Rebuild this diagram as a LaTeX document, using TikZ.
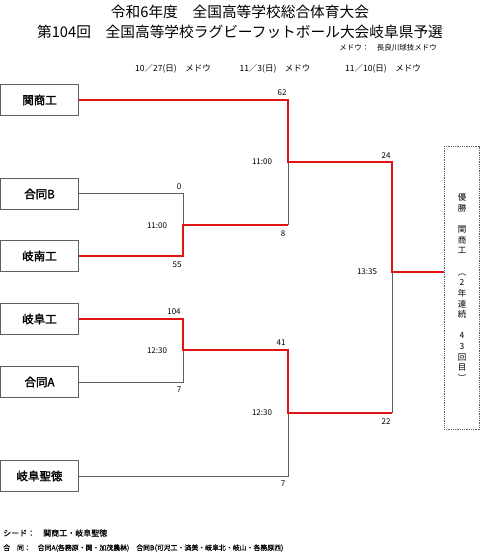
\documentclass[tikz,border=0pt]{standalone}
\usepackage{fontspec}
\setmainfont{Noto Sans CJK JP}
\newfontfamily\jpb{Noto Sans CJK JP}[FakeBold=2]
\newfontfamily\jpm{Noto Sans CJK JP}[FakeBold=0.6]
\definecolor{wred}{RGB}{225,20,20}
\definecolor{lgray}{RGB}{95,95,95}
\newcommand{\fs}[1]{\fontsize{#1}{#1}\selectfont}
\begin{document}
\begin{tikzpicture}[x=1pt,y=-1pt,
  team/.style={draw=lgray,line width=1pt,minimum width=77.5pt,minimum height=31pt,inner sep=0pt,font=\jpb\fs{11.5}},
  win/.style={line width=1.3pt,draw=wred},
  lose/.style={line width=1pt,draw=lgray},
  score/.style={inner sep=0pt,font=\fs{8}},
  hdr/.style={inner sep=0pt}]
\useasboundingbox (0,0) rectangle (480,553);
\fill[white] (0,0) rectangle (480,553);
% titles
\node[hdr,font=\fs{14.7}] (t1) at (240,12) {令和6年度　全国高等学校総合体育大会};
\node[hdr,font=\fs{14.7}] (t2) at (240,32) {第104回　全国高等学校ラグビーフットボール大会岐阜県予選};
\node[hdr,font=\fs{7.5}] (venue) at (388,48) {メドウ：　長良川球技メドウ};
\node[hdr,font=\fs{8.5}] (d1) at (173,69) {10／27(日)　メドウ};
\node[hdr,font=\fs{8.5}] (d2) at (275,69) {11／3(日)　メドウ};
\node[hdr,font=\fs{8.5}] (d3) at (383,69) {11／10(日)　メドウ};
% teams
\node[team] (kansho) at (39.5,100) {関商工};
\node[team] (godoB) at (39.5,194) {合同B};
\node[team] (ginan) at (39.5,256) {岐南工};
\node[team] (gifuko) at (39.5,319) {岐阜工};
\node[team] (godoA) at (39.5,382) {合同A};
\node[team] (seitoku) at (39.5,476) {岐阜聖徳};
% winner box
\node[draw=lgray,line width=1pt,dash pattern=on 1pt off 0.8pt,minimum width=35pt,minimum height=282pt,inner sep=0pt] (champ) at (461.5,288) {};
\node[inner sep=0pt,align=center,font=\fs{8.5},execute at begin node={\baselineskip=10.65pt}] (champtxt) at (462,287.5)
 {優\\勝\\\mbox{}\\関\\商\\工\\\mbox{}\\︵\\2\\年\\連\\続\\\mbox{}\\4\\3\\回\\目\\︶};
% junction coordinates
\coordinate (a1) at (288,100);
\coordinate (q1) at (288,162);
\coordinate (e1) at (288,225);
\coordinate (b1) at (183,194);
\coordinate (b2) at (183,256);
\coordinate (m1) at (183,225);
\coordinate (c1) at (183,319);
\coordinate (c2) at (183,382);
\coordinate (m2) at (183,350);
\coordinate (s1) at (288,350);
\coordinate (q2) at (288,413);
\coordinate (e2) at (288,476);
\coordinate (f1) at (392,162);
\coordinate (f2) at (392,413);
\coordinate (fm) at (392,272);
% losers
\draw[lose] (godoB.east) -- (b1) -- (m1);
\draw[lose] (m2) -- (c2) -- (godoA.east);
\draw[lose] (q1) -- (e1);
\draw[lose] (q2) -- (e2) -- (seitoku.east);
\draw[lose] (fm) -- (f2);
% winners
\draw[win] (ginan.east) -- (b2) -- (m1) -- (e1);
\draw[win] (gifuko.east) -- (c1) -- (m2) -- (s1) -- (q2) -- (f2);
\draw[win] (kansho.east) -- (a1) -- (q1) -- (f1) -- (fm) -- (fm -| champ.west);
% scores
\node[score] (s0) at (179,187) {0};
\node[score] (s55) at (177,265) {55};
\node[score] (t11a) at (157,226) {11:00};
\node[score] (s104) at (174,312) {104};
\node[score] (t12a) at (157,351) {12:30};
\node[score] (s7a) at (179,390) {7};
\node[score] (s62) at (282,93) {62};
\node[score] (s8) at (283,234) {8};
\node[score] (t11b) at (262,162) {11:00};
\node[score] (s41) at (281,343) {41};
\node[score] (t12b) at (262,413) {12:30};
\node[score] (s7b) at (283,484) {7};
\node[score] (s24) at (386,156) {24};
\node[score] (s22) at (386,422) {22};
\node[score] (t13) at (367,272) {13:35};
% footer
\node[hdr,anchor=west,font=\jpm\fs{8}] (seed) at (3,533) {シード：　関商工・岐阜聖徳};
\node[hdr,anchor=west,font=\jpm\fs{6.9}] (godo) at (3,548) {合　同：　合同A(各務原・関・加茂農林)　合同B(可児工・済美・岐阜北・岐山・各務原西)};
\end{tikzpicture}
\end{document}
